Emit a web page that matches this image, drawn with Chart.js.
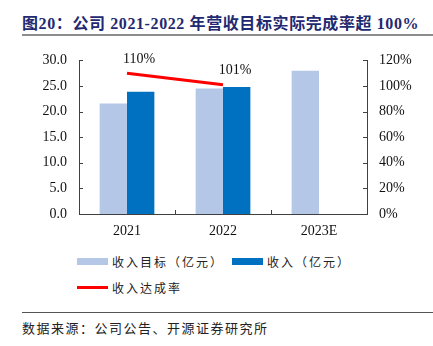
<!DOCTYPE html>
<html>
<head>
<meta charset="utf-8">
<script src="https://cdn.jsdelivr.net/npm/chart.js@4"></script>
<style>
  body { margin: 0; width: 433px; height: 346px; background: #fff; position: relative; overflow: hidden; }
  #title { position: absolute; left: 22px; top: 10px; font: bold 16px "Liberation Serif", "Noto Sans CJK SC", serif; letter-spacing: 0.6px; color: #1F2A70; white-space: nowrap; }
  #topline { position: absolute; left: 22px; top: 34px; width: 411px; height: 2px; background: #8c8c8c; }
  #wrap { position: absolute; left: 0; top: 40px; }
  .legrow { position: absolute; left: 77px; display: flex; align-items: center; font: 12px "Noto Sans CJK SC", sans-serif; letter-spacing: 2px; color: #222; }
  .legitem { display: flex; align-items: center; margin-right: 8px; }
  .sw { width: 31px; margin-right: 4px; }
  #botline { position: absolute; left: 22px; top: 312px; width: 411px; height: 1px; background: #555; }
  #source { position: absolute; left: 22px; top: 318px; font: 13px "Noto Sans CJK SC", sans-serif; letter-spacing: 1.5px; color: #222; white-space: nowrap; }
</style>
</head>
<body>
<div id="title">图20：公司 2021-2022 年营收目标实际完成率超 100%</div>
<div id="topline"></div>
<div id="wrap"><canvas id="c" width="433" height="205"></canvas></div>
<div class="legrow" id="leg1" style="top:253px"></div>
<div class="legrow" id="leg2" style="top:279px"></div>
<div id="botline"></div>
<div id="source">数据来源：公司公告、开源证券研究所</div>
<script>
const years = ['2021', '2022', '2023E']
const targetRevenue = [21.6, 24.5, 28.0]
const actualRevenue = [23.9, 24.8, null]
const completionRate = [110, 101, null]

const colTarget = '#B4C7E7'
const colActual = '#0070C0'
const colRate = '#FF0000'

const serif = '"Liberation Serif", "Times New Roman", serif'

// small inward tick marks + line value labels
const extras = {
  id: 'extras',
  afterDatasetsDraw(chart) {
    const ctx = chart.ctx
    const a = chart.chartArea
    const y = chart.scales.y, y1 = chart.scales.y1, x = chart.scales.x
    ctx.save()
    ctx.strokeStyle = '#404040'
    ctx.lineWidth = 1
    ctx.beginPath()
    y.ticks.forEach((t, i) => {
      const py = Math.round(y.getPixelForTick(i)) + 0.5
      ctx.moveTo(a.left, py); ctx.lineTo(a.left + 4, py)
    })
    y1.ticks.forEach((t, i) => {
      const py = Math.round(y1.getPixelForTick(i)) + 0.5
      ctx.moveTo(a.right - 4, py); ctx.lineTo(a.right, py)
    })
    for (let i = 1; i < years.length; i++) {
      const px = Math.round((x.getPixelForValue(i - 1) + x.getPixelForValue(i)) / 2) + 0.5
      ctx.moveTo(px, a.bottom); ctx.lineTo(px, a.bottom - 4)
    }
    ctx.stroke()

    const meta = chart.getDatasetMeta(2)
    ctx.fillStyle = '#111'
    ctx.font = '14px ' + serif
    ctx.textAlign = 'center'
    ctx.textBaseline = 'middle'
    meta.data.forEach((pt, i) => {
      if (completionRate[i] == null) return
      ctx.fillText(completionRate[i] + '%', pt.x + 12, pt.y - 14)
    })
    ctx.restore()
  }
}

const chart = new Chart(document.getElementById('c'), {
  type: 'bar',
  data: {
    labels: years,
    datasets: [
      { label: '收入目标（亿元）', data: targetRevenue, backgroundColor: colTarget, yAxisID: 'y', order: 2 },
      { label: '收入（亿元）', data: actualRevenue, backgroundColor: colActual, yAxisID: 'y', order: 2 },
      { label: '收入达成率', type: 'line', data: completionRate, borderColor: colRate, backgroundColor: colRate,
        borderWidth: 3, pointRadius: 0, yAxisID: 'y1', order: 1, spanGaps: false }
    ]
  },
  options: {
    responsive: false,
    animation: false,
    devicePixelRatio: 1,
    layout: { padding: { top: 18, left: 0, right: 0, bottom: 0 } },
    datasets: { bar: { barPercentage: 1, categoryPercentage: 0.57 } },
    plugins: { legend: { display: false }, tooltip: { enabled: false } },
    scales: {
      x: {
        grid: { display: false, drawTicks: false },
        border: { display: true, color: '#404040', width: 1 },
        ticks: { color: '#111', font: { family: serif, size: 14 }, padding: 9 },
        afterFit(s) { s.height = 31 }
      },
      y: {
        position: 'left', min: 0, max: 30,
        grid: { display: false, drawTicks: false },
        border: { display: true, color: '#404040', width: 1 },
        ticks: { stepSize: 5, color: '#111', font: { family: serif, size: 14 }, padding: 12,
          callback: v => v.toFixed(1) },
        afterFit(s) { s.width = 79 }
      },
      y1: {
        position: 'right', min: 0, max: 120,
        grid: { display: false, drawTicks: false },
        border: { display: true, color: '#404040', width: 1 },
        ticks: { stepSize: 20, color: '#111', font: { family: serif, size: 14 }, padding: 12,
          callback: v => v + '%' },
        afterFit(s) { s.width = 66 }
      }
    }
  },
  plugins: [extras]
})

// html legend built from the datasets
function legItem(ds, isLine) {
  const el = document.createElement('div')
  el.className = 'legitem'
  const sw = document.createElement('div')
  sw.className = 'sw'
  sw.style.height = isLine ? '3px' : '7px'
  sw.style.background = isLine ? ds.borderColor : ds.backgroundColor
  const tx = document.createElement('span')
  tx.textContent = ds.label
  el.appendChild(sw); el.appendChild(tx)
  return el
}
const dss = chart.data.datasets
document.getElementById('leg1').appendChild(legItem(dss[0], false))
document.getElementById('leg1').appendChild(legItem(dss[1], false))
document.getElementById('leg2').appendChild(legItem(dss[2], true))
</script>
</body>
</html>
